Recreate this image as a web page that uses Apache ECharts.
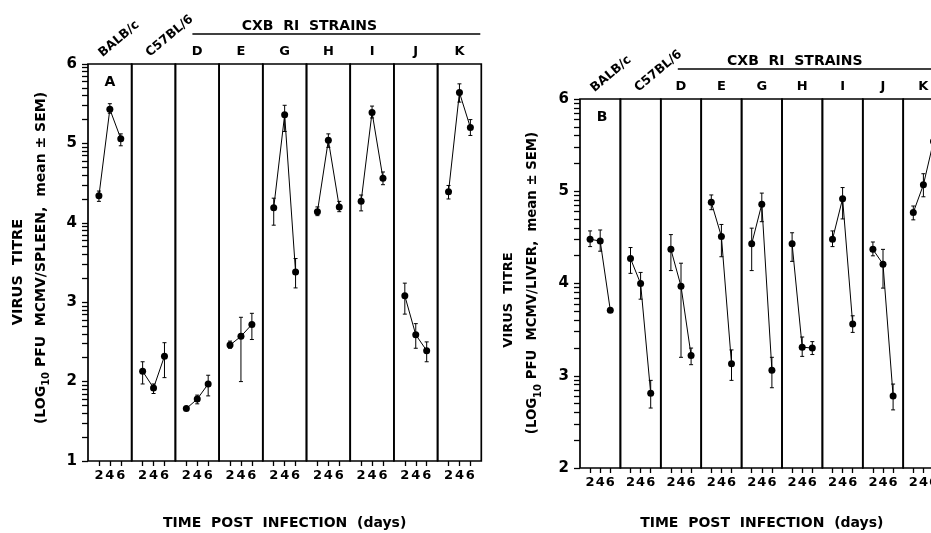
<!DOCTYPE html>
<html>
<head>
<meta charset="utf-8">
<script src="https://cdn.jsdelivr.net/npm/echarts@6/dist/echarts.min.js"></script>
<style>
  html, body { margin: 0; padding: 0; background: #fff; }
  #chart { width: 931px; height: 533px; }
</style>
</head>
<body>
<div id="chart"></div>
<script>
const STRAINS = ['BALB/c', 'C57BL/6', 'D', 'E', 'G', 'H', 'I', 'J', 'K']
const DAYS = [2, 4, 6]

const SPLEEN_MEAN = [[4.34, 5.43, 5.06], [2.13, 1.92, 2.32], [1.66, 1.78, 1.97], [2.46, 2.57, 2.72], [4.19, 5.36, 3.38], [4.14, 5.04, 4.20], [4.27, 5.39, 4.56], [3.08, 2.59, 2.39], [4.39, 5.64, 5.20]]
const SPLEEN_LOW = [[4.27, 5.38, 4.97], [1.97, 1.85, 2.05], [1.64, 1.72, 1.82], [2.42, 2.00, 2.53], [3.97, 5.15, 3.18], [4.09, 4.95, 4.14], [4.15, 5.32, 4.48], [2.85, 2.42, 2.25], [4.30, 5.52, 5.10]]
const SPLEEN_HIGH = [[4.40, 5.50, 5.12], [2.25, 1.97, 2.49], [1.68, 1.83, 2.08], [2.51, 2.81, 2.86], [4.31, 5.48, 3.55], [4.20, 5.12, 4.27], [4.35, 5.47, 4.64], [3.24, 2.73, 2.50], [4.47, 5.75, 5.30]]

const LIVER_MEAN = [[4.48, 4.46, 3.71], [4.27, 4.00, 2.81], [4.37, 3.97, 3.22], [4.88, 4.51, 3.13], [4.43, 4.86, 3.06], [4.43, 3.31, 3.30], [4.48, 4.92, 3.56], [4.37, 4.21, 2.78], [4.77, 5.07, 5.54]]
const LIVER_LOW = [[4.40, 4.35, 3.71], [4.11, 3.83, 2.65], [4.14, 3.20, 3.12], [4.80, 4.29, 2.95], [4.14, 4.67, 2.87], [4.24, 3.21, 3.23], [4.40, 4.70, 3.47], [4.30, 3.95, 2.63], [4.69, 4.94, 5.47]]
const LIVER_HIGH = [[4.57, 4.58, 3.71], [4.39, 4.12, 2.95], [4.53, 4.22, 3.30], [4.96, 4.64, 3.28], [4.60, 4.98, 3.20], [4.55, 3.42, 3.37], [4.57, 5.04, 3.65], [4.45, 4.37, 2.91], [4.84, 5.19, 5.63]]

const Y_LABELS_A = [1, 2, 3, 4, 5, 6]
const Y_LABELS_B = [2, 3, 4, 5, 6]
const LOG_STEPS = [2, 3, 4, 5, 6, 7, 8, 9]

const FONT = 'DejaVu Sans'

const PANELS = [
  {
    letter: 'A', organ: 'SPLEEN',
    mean: SPLEEN_MEAN, low: SPLEEN_LOW, high: SPLEEN_HIGH,
    yLabels: Y_LABELS_A,
    left: 88, top: 64, cellW: 43.7, height: 397,
    nameX1: 18, nameY1: 272, nameX2: 41, nameY2: 258, nameSize1: 14.5, nameSize2: 14,
    titleY: 523
  },
  {
    letter: 'B', organ: 'LIVER',
    mean: LIVER_MEAN, low: LIVER_LOW, high: LIVER_HIGH,
    yLabels: Y_LABELS_B,
    left: 580, top: 99, cellW: 40.4, height: 369,
    nameX1: 509, nameY1: 300, nameX2: 533, nameY2: 283, nameSize1: 13, nameSize2: 13.3,
    titleY: 523
  }
]

function logTicks(labels) {
  const ticks = labels.slice()
  for (let i = 0; i < labels.length - 1; i++) {
    LOG_STEPS.forEach(k => ticks.push(labels[i] + Math.log10(k)))
  }
  return ticks
}

function renderErrorBar(params, api) {
  const lo = api.coord([api.value(0), api.value(1)])
  const hi = api.coord([api.value(0), api.value(2)])
  const cap = 2
  const style = { stroke: '#000', lineWidth: 1 }
  return {
    type: 'group',
    children: [
      { type: 'line', shape: { x1: lo[0], y1: lo[1], x2: hi[0], y2: hi[1] }, style },
      { type: 'line', shape: { x1: lo[0] - cap, y1: lo[1], x2: lo[0] + cap, y2: lo[1] }, style },
      { type: 'line', shape: { x1: hi[0] - cap, y1: hi[1], x2: hi[0] + cap, y2: hi[1] }, style }
    ]
  }
}

const grid = []
const xAxis = []
const yAxis = []
const series = []
const graphic = []

PANELS.forEach(panel => {
  const yMin = panel.yLabels[0]
  const yMax = panel.yLabels[panel.yLabels.length - 1]
  const right = panel.left + panel.cellW * STRAINS.length

  STRAINS.forEach((strain, i) => {
    const idx = grid.length
    const cellLeft = panel.left + panel.cellW * i
    grid.push({
      left: cellLeft, top: panel.top, width: panel.cellW, height: panel.height,
      outerBoundsMode: 'none',
      show: true, borderColor: '#000', borderWidth: 1.7, backgroundColor: 'transparent'
    })
    xAxis.push({
      gridIndex: idx, type: 'value', min: 0, max: 8,
      axisLine: { show: false },
      splitLine: { show: false },
      axisTick: { customValues: DAYS, length: 5, lineStyle: { color: '#000', width: 1.3 } },
      axisLabel: {
        customValues: DAYS, margin: 8, color: '#000', hideOverlap: false,
        fontFamily: FONT, fontWeight: 'bold', fontSize: 13
      }
    })
    const first = i === 0
    yAxis.push({
      gridIndex: idx, type: 'value', min: yMin, max: yMax,
      axisLine: { show: false },
      splitLine: { show: false },
      axisTick: {
        show: first, customValues: logTicks(panel.yLabels), length: 6,
        lineStyle: { color: '#000', width: 1.3 }
      },
      axisLabel: {
        show: first, customValues: panel.yLabels, margin: 11, color: '#000',
        fontFamily: FONT, fontWeight: 'bold', fontSize: 15
      }
    })
    series.push({
      type: 'line', xAxisIndex: idx, yAxisIndex: idx,
      data: DAYS.map((d, k) => [d, panel.mean[i][k]]),
      symbol: 'circle', symbolSize: 7,
      itemStyle: { color: '#000' },
      lineStyle: { color: '#000', width: 1 }
    })
    series.push({
      type: 'custom', xAxisIndex: idx, yAxisIndex: idx,
      renderItem: renderErrorBar,
      encode: { x: 0, y: [1, 2] },
      data: DAYS.map((d, k) => [d, panel.low[i][k], panel.high[i][k]]),
      z: 3
    })

    const labelFont = { fontFamily: FONT, fontWeight: 'bold', fill: '#000' }
    if (i < 2) {
      graphic.push({
        type: 'text',
        x: cellLeft + (i === 0 ? 31 : 38), y: panel.top - (i === 0 ? 25 : 28),
        rotation: 40 * Math.PI / 180,
        style: Object.assign({ text: strain, fontSize: 12.5, align: 'center', verticalAlign: 'middle' }, labelFont)
      })
    } else {
      graphic.push({
        type: 'text',
        x: cellLeft + panel.cellW / 2, y: panel.top - 12,
        style: Object.assign({ text: strain, fontSize: 13, align: 'center', verticalAlign: 'middle' }, labelFont)
      })
    }
  })

  const dLeft = panel.left + panel.cellW * 2
  graphic.push({
    type: 'line',
    shape: { x1: dLeft + 17, y1: panel.top - 30, x2: right - 1, y2: panel.top - 30 },
    style: { stroke: '#000', lineWidth: 1.3 }
  })
  graphic.push({
    type: 'text', x: dLeft + 134, y: panel.top - 38,
    style: { text: 'CXB  RI  STRAINS', fontFamily: FONT, fontWeight: 'bold', fontSize: 14, fill: '#000', align: 'center', verticalAlign: 'middle' }
  })
  graphic.push({
    type: 'text', x: panel.left + 22, y: panel.top + 18,
    style: { text: panel.letter, fontFamily: FONT, fontWeight: 'bold', fontSize: 14, fill: '#000', align: 'center', verticalAlign: 'middle' }
  })
  graphic.push({
    type: 'text', x: panel.nameX1, y: panel.nameY1, rotation: Math.PI / 2,
    style: { text: 'VIRUS  TITRE', fontFamily: FONT, fontWeight: 'bold', fontSize: panel.nameSize1, fill: '#000', align: 'center', verticalAlign: 'middle' }
  })
  graphic.push({
    type: 'text', x: panel.nameX2, y: panel.nameY2, rotation: Math.PI / 2,
    style: {
      text: '(LOG{sub|10} PFU  MCMV/' + panel.organ + ',  mean ± SEM)',
      fontFamily: FONT, fontWeight: 'bold', fontSize: panel.nameSize2, lineHeight: 20,
      fill: '#000', align: 'center', verticalAlign: 'middle',
      rich: { sub: { fontFamily: FONT, fontWeight: 'bold', fontSize: 10, lineHeight: 10, verticalAlign: 'bottom', fill: '#000' } }
    }
  })
  graphic.push({
    type: 'text', x: (panel.left + right) / 2, y: panel.titleY,
    style: { text: 'TIME  POST  INFECTION  (days)', fontFamily: FONT, fontWeight: 'bold', fontSize: 14, fill: '#000', align: 'center', verticalAlign: 'middle' }
  })
})

const chart = echarts.init(document.getElementById('chart'))
chart.setOption({
  animation: false,
  backgroundColor: '#fff',
  grid,
  xAxis,
  yAxis,
  series,
  graphic
})
</script>
</body>
</html>
